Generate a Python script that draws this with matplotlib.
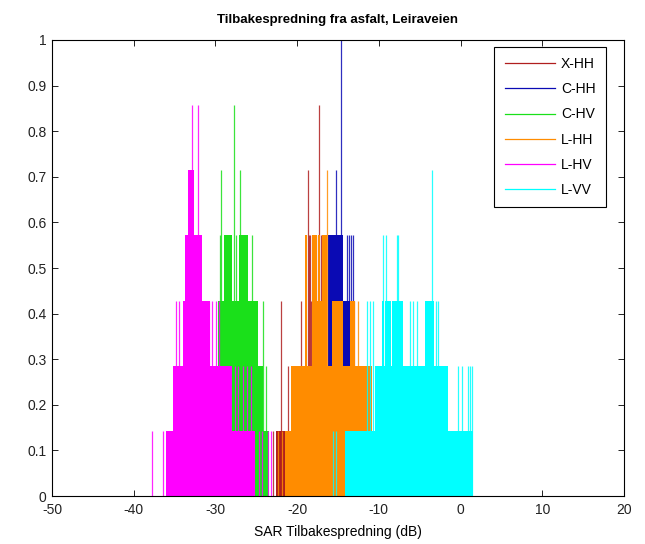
import numpy as np
import matplotlib
matplotlib.use("Agg")
import matplotlib.pyplot as plt
from matplotlib.lines import Line2D

plt.rcParams['font.family'] = ['Liberation Sans', 'DejaVu Sans']
plt.rcParams['axes.unicode_minus'] = False

# Histogram counts per bin (normalised by N_MAX); each series is a stepped
# block profile plus isolated single-bin spikes.
N_MAX = 7

labels = ['X-HH', 'C-HH', 'C-HV', 'L-HH', 'L-HV', 'L-VV']
colors = ['#B01E1E', '#0A0AB4', '#1AE01A', '#FF8C00', '#FF00FF', '#00FFFF']

xhh_edges = [-22.6, -21.5, -20.7, -13.0]
xhh_counts = [1, 0, 2]
xhh_spike_x = [-23.0, -22.1, -21.97, -21.6, -21.15, -19.53, -18.71, -18.55,
               -18.42, -18.30, -17.45, -17.29, -17.08, -13.1]
xhh_spike_n = [1, 1, 3, 1, 2, 3, 5, 4, 4, 3, 4, 6, 4, 3]

chh_edges = [-17.0, -16.22, -15.05, -14.95, -14.39, -13.0, -12.4]
chh_counts = [2, 4, 3, 4, 3, 2]
chh_spike_x = [-15.28, -14.67, -13.90, -13.65, -13.40, -13.16]
chh_spike_n = [5, 7, 4, 4, 4, 4]

chv_edges = [-29.68, -28.95, -27.97, -27.12, -26.01, -24.79, -24.18, -23.5]
chv_counts = [3, 4, 3, 4, 3, 2, 1]
chv_spike_x = [-29.44, -29.32, -27.69, -27.48, -27.05, -25.52, -24.18, -23.81]
chv_spike_n = [4, 5, 6, 4, 5, 4, 3, 2]

lhh_edges = [-21.48, -20.75, -19.04, -18.79, -18.18, -17.57, -17.40, -17.20,
             -17.00, -16.34, -15.73, -14.39, -13.53, -12.92, -10.84]
lhh_counts = [1, 2, 4, 2, 4, 3, 4, 3, 4, 2, 3, 2, 3, 2]
lhh_spike_x = [-22.34, -21.9, -16.38, -12.55]
lhh_spike_n = [1, 1, 5, 3]

lhv_edges = [-36.05, -35.19, -33.97, -33.75, -33.36, -32.62, -31.64, -30.66,
             -27.97, -25.16]
lhv_counts = [1, 2, 3, 4, 5, 4, 3, 2, 1]
lhv_spike_x = [-37.70, -36.42, -34.82, -34.40, -32.90, -32.17, -31.40, -30.79,
               -30.36, -29.93, -29.56, -27.6, -27.2, -26.6, -26.1, -25.6,
               -24.7, -24.3, -23.57, -23.2]
lhv_spike_n = [1, 1, 3, 3, 6, 6, 3, 3, 3, 3, 3, 2, 2, 2, 2, 2, 1, 1, 1, 1]

lvv_edges = [-14.14, -10.5, -9.61, -9.35, -9.2, -8.5, -8.35, -7.04, -4.3,
             -3.3, -1.54, 1.56]
lvv_counts = [1, 2, 3, 2, 3, 2, 3, 2, 3, 2, 1]
lvv_spike_x = [-15.6, -15.3, -11.45, -11.08, -10.71, -9.45, -9.12, -7.81,
               -7.65, -6.19, -5.82, -5.33, -3.53, -3.0, -2.76, -0.35, 0.14,
               0.91, 1.16, 1.44]
lvv_spike_n = [1, 1, 3, 3, 3, 4, 4, 4, 4, 3, 3, 3, 5, 3, 3, 2, 2, 2, 2, 2]

series = [
    (xhh_edges, xhh_counts, xhh_spike_x, xhh_spike_n),
    (chh_edges, chh_counts, chh_spike_x, chh_spike_n),
    (chv_edges, chv_counts, chv_spike_x, chv_spike_n),
    (lhh_edges, lhh_counts, lhh_spike_x, lhh_spike_n),
    (lhv_edges, lhv_counts, lhv_spike_x, lhv_spike_n),
    (lvv_edges, lvv_counts, lvv_spike_x, lvv_spike_n),
]

fig = plt.figure(figsize=(6.45, 5.44), dpi=100)
ax = fig.add_axes([0.0806, 0.0882, 0.8868, 0.8383])

for i, ((edges, counts, sx, sn), col) in enumerate(zip(series, colors)):
    z = 2 + i
    ax.stairs(np.array(counts) / N_MAX, edges, fill=True, color=col,
              linewidth=0, zorder=z)
    ax.vlines(sx, 0, np.array(sn) / N_MAX, colors=col, linewidth=0.9,
              alpha=0.85, zorder=z)

ax.set_xlim(-50, 20)
ax.set_ylim(0, 1)
ax.set_xticks(np.arange(-50, 21, 10))
ax.set_yticks(np.arange(0, 1.01, 0.1))
ax.set_yticklabels(['0', '0.1', '0.2', '0.3', '0.4', '0.5', '0.6', '0.7',
                    '0.8', '0.9', '1'])
ax.set_axisbelow(True)
ax.tick_params(direction='in', length=4, width=0.7, top=True, right=True,
               labelsize=10, colors='#222222')
ax.tick_params(axis='x', pad=5)
ax.tick_params(axis='y', pad=4)
for sp in ax.spines.values():
    sp.set_zorder(20)
    sp.set_linewidth(0.8)

ax.set_title('Tilbakespredning fra asfalt, Leiraveien', fontsize=9.5,
             fontweight='bold', pad=12)
ax.set_xlabel('SAR Tilbakespredning (dB)', fontsize=10, labelpad=6)

handles = [Line2D([0], [0], color=c, linewidth=0.9) for c in colors]
leg = ax.legend(handles, labels, loc='upper right',
                bbox_to_anchor=(0.9685, 0.985), borderaxespad=0,
                fontsize=10, handlelength=3.6, handletextpad=0.45,
                labelspacing=0.8, borderpad=0.75, fancybox=False,
                framealpha=1, edgecolor='black')
leg.get_frame().set_linewidth(0.8)
leg.set_zorder(30)

fig.savefig('out.png', dpi=100)
